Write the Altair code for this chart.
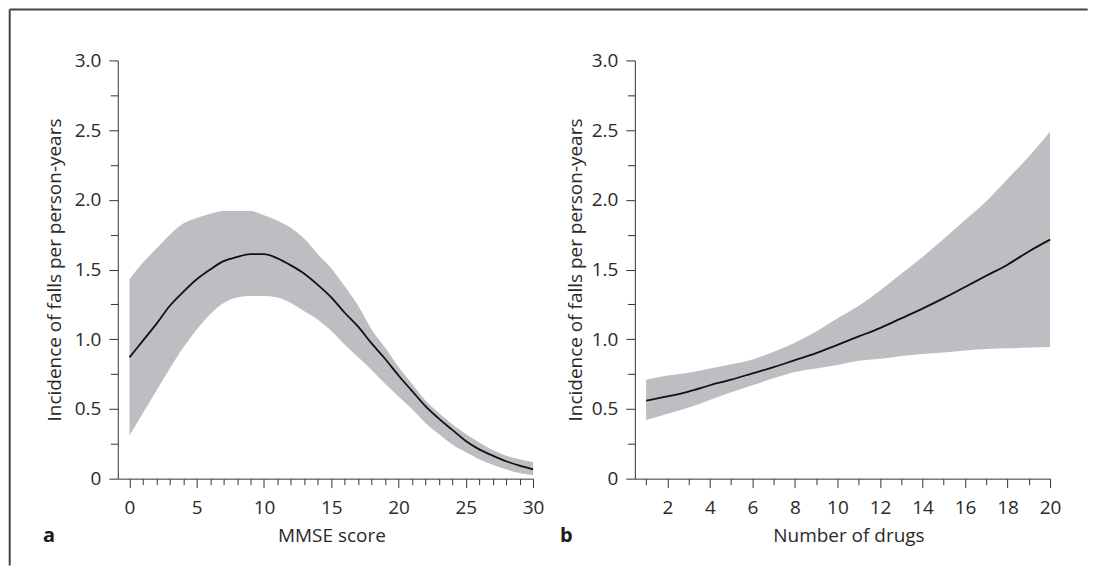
import altair as alt
import pandas as pd

# ---------------- data ----------------
mmse_x = [0, 1, 2, 3, 4, 5, 6, 7, 8, 9, 10, 11, 12, 13, 14, 15,
          16, 17, 18, 19, 20, 21, 22, 23, 24, 25, 26, 27, 28, 29, 30]
mmse_fit = [0.87, 0.99, 1.11, 1.24, 1.34, 1.43, 1.50, 1.56, 1.59, 1.61, 1.61,
            1.58, 1.53, 1.47, 1.39, 1.30, 1.19, 1.09, 0.97, 0.86, 0.74,
            0.63, 0.52, 0.43, 0.35, 0.27, 0.21, 0.165, 0.125, 0.093, 0.067]
mmse_hi = [1.43, 1.55, 1.65, 1.75, 1.83, 1.87, 1.90, 1.92, 1.92, 1.92, 1.89,
           1.85, 1.80, 1.72, 1.61, 1.51, 1.38, 1.24, 1.07, 0.94, 0.80,
           0.68, 0.56, 0.47, 0.39, 0.32, 0.26, 0.205, 0.165, 0.14, 0.12]
mmse_lo = [0.31, 0.47, 0.63, 0.79, 0.94, 1.07, 1.18, 1.26, 1.30, 1.31, 1.31,
           1.30, 1.26, 1.20, 1.14, 1.06, 0.96, 0.87, 0.78, 0.68, 0.59,
           0.50, 0.40, 0.32, 0.245, 0.19, 0.14, 0.10, 0.067, 0.04, 0.024]

drugs_x = [1, 2, 3, 4, 5, 6, 7, 8, 9, 10, 11, 12, 13, 14, 15, 16, 17, 18, 19, 20]
drugs_fit = [0.56, 0.59, 0.625, 0.67, 0.71, 0.755, 0.80, 0.85, 0.90, 0.96,
             1.02, 1.08, 1.15, 1.22, 1.295, 1.375, 1.455, 1.535, 1.63, 1.715]
drugs_hi = [0.71, 0.74, 0.76, 0.79, 0.82, 0.855, 0.91, 0.975, 1.055, 1.15,
            1.24, 1.35, 1.47, 1.59, 1.72, 1.855, 1.99, 2.15, 2.31, 2.49]
drugs_lo = [0.42, 0.465, 0.51, 0.565, 0.62, 0.67, 0.72, 0.765, 0.79, 0.815,
            0.845, 0.86, 0.88, 0.895, 0.905, 0.92, 0.93, 0.935, 0.94, 0.945]

y_ticks = [0, 0.25, 0.5, 0.75, 1.0, 1.25, 1.5, 1.75, 2.0, 2.25, 2.5, 2.75, 3.0]
y_title = "Incidence of falls per person-years"

# ---------------- style ----------------
W, H = 416, 419
FONT = "Open Sans"
TXT = "#2a2a2a"
AX = "#333333"
BAND = "#bcbec1"
FS = 19


def panel(xs, fit, lo, hi, xdomain, major_step, xtitle, letter, frame, ytx):
    df = pd.DataFrame({"x": xs, "fit": fit, "lo": lo, "hi": hi})
    xscale = alt.Scale(domain=xdomain, nice=False, zero=False)
    yscale = alt.Scale(domain=[0, 3], nice=False)
    xaxis = alt.Axis(
        values=xs, tickCount=500,
        labelExpr=f"datum.value % {major_step} === 0 ? format(datum.value, 'd') : ''",
        tickSize={"condition": {"test": f"datum.value % {major_step} === 0", "value": 9}, "value": 6},
        grid=False, labelFont=FONT, labelFontSize=FS, labelColor=TXT,
        labelPadding=11, labelFlush=False, labelOverlap=False,
        title=xtitle, titleFont=FONT, titleFontSize=FS, titleFontWeight="normal",
        titleColor=TXT, titleX=214, titleY=63, titleBaseline="alphabetic",
        domainColor=AX, tickColor=AX, domainWidth=1, tickWidth=1,
    )
    yaxis = alt.Axis(
        values=y_ticks, tickCount=500,
        labelExpr="datum.value === 0 ? '0' : (abs(datum.value*2 - round(datum.value*2)) < 0.001 ? format(datum.value, '.1f') : '')",
        tickSize={"condition": {"test": "abs(datum.value*2 - round(datum.value*2)) < 0.001", "value": 9}, "value": 7.5},
        grid=False, labelFont=FONT, labelFontSize=FS, labelColor=TXT,
        labelPadding=8, labelFlush=False, labelOverlap=False,
        title=y_title, titleFont=FONT, titleFontSize=FS, titleFontWeight="normal",
        titleColor=TXT, titleX=ytx, titleY=H / 2, titleAngle=270,
        titleBaseline="alphabetic", titleAlign="center",
        domainColor=AX, tickColor=AX, domainWidth=1, tickWidth=1,
    )
    base = alt.Chart(df)
    band = base.mark_area(color=BAND, interpolate="monotone").encode(
        x=alt.X("x:Q", scale=xscale, axis=xaxis),
        y=alt.Y("lo:Q", scale=yscale, axis=yaxis),
        y2="hi:Q",
    )
    line = base.mark_line(color="#111111", strokeWidth=1.8, interpolate="monotone").encode(
        x=alt.X("x:Q", scale=xscale, axis=xaxis),
        y=alt.Y("fit:Q", scale=yscale, axis=yaxis),
    )
    lab = alt.Chart(pd.DataFrame({"t": [letter]})).mark_text(
        font=FONT, fontSize=20, fontWeight="bold", color="#1a1a1a",
        align="left", baseline="alphabetic"
    ).encode(x=alt.value(-75), y=alt.value(482), text="t:N")
    layers = [band, line, lab]
    if frame:
        one = alt.Chart(pd.DataFrame({"k": [0]}))
        top = one.mark_rule(color="#454545", strokeWidth=2).encode(
            x=alt.value(-108.3), x2=alt.value(971.7), y=alt.value(-51))
        left = one.mark_rule(color="#454545", strokeWidth=2).encode(
            x=alt.value(-108.3), y=alt.value(-51), y2=alt.value(506))
        layers += [top, left]
    return alt.layer(*layers).properties(width=W, height=H)


pa = panel(mmse_x, mmse_fit, mmse_lo, mmse_hi, [-0.87, 30], 5, "MMSE score", "a", True, -57)
pb = panel(drugs_x, drugs_fit, drugs_lo, drugs_hi, [0.47, 20], 2, "Number of drugs", "b", False, -53)

chart = alt.hconcat(pa, pb, spacing=102, bounds="flush").properties(
    padding=0, background="white"
).configure_view(stroke=None)

chart.save("out.html", embed_options={"renderer": "svg", "actions": False})
